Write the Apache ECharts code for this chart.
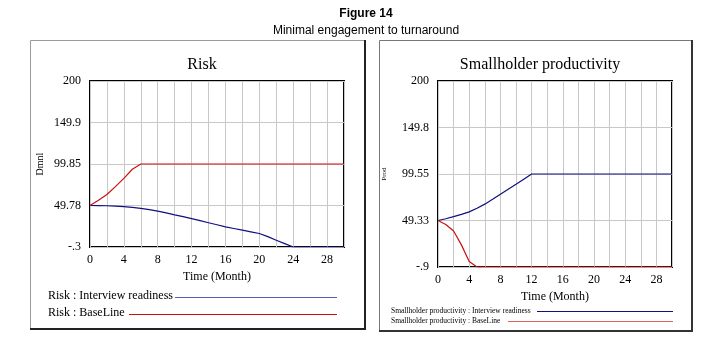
<!DOCTYPE html>
<html>
<head>
<meta charset="utf-8">
<script src="https://cdn.jsdelivr.net/npm/echarts@6/dist/echarts.min.js"></script>
<style>
  html, body { margin: 0; padding: 0; background: #fff; }
  #main { width: 704px; height: 343px; }
</style>
</head>
<body>
<div id="main"></div>
<script>
// time axis (months)
const months = [0,1,2,3,4,5,6,7,8,9,10,11,12,13,14,15,16,17,18,19,20,21,22,23,24,25,26,27,28,29,30];

// Risk (Dmnl)
const riskInterview = [49.78,49.7,49.5,49.1,48.4,47.4,46.2,44.8,43,40.8,38.5,36.3,34,31.5,29,26.5,24,22,20,18,16,12.2,7.8,3.8,-0.3,-0.3,-0.3,-0.3,-0.3,-0.3,-0.3];
const riskBaseline = [49.78,56,63,72.5,82.5,93.5,99.85,99.85,99.85,99.85,99.85,99.85,99.85,99.85,99.85,99.85,99.85,99.85,99.85,99.85,99.85,99.85,99.85,99.85,99.85,99.85,99.85,99.85,99.85,99.85,99.85];

// Smallholder productivity (Prod)
const prodInterview = [49.33,51.2,53.5,56,58.6,62.5,67,72.2,77.8,83.2,88.5,94,99.55,99.55,99.55,99.55,99.55,99.55,99.55,99.55,99.55,99.55,99.55,99.55,99.55,99.55,99.55,99.55,99.55,99.55,99.55];
const prodBaseline = [49.33,45,38,23,5,-0.9,-0.9,-0.9,-0.9,-0.9,-0.9,-0.9,-0.9,-0.9,-0.9,-0.9,-0.9,-0.9,-0.9,-0.9,-0.9,-0.9,-0.9,-0.9,-0.9,-0.9,-0.9,-0.9,-0.9,-0.9,-0.9];

// y ticks and their printed labels
const riskTicks = [-0.3, 49.775, 99.85, 149.925, 200];
const riskTickLabels = ['-.3', '49.78', '99.85', '149.9', '200'];
const prodTicks = [-0.9, 49.325, 99.55, 149.775, 200];
const prodTickLabels = ['-.9', '49.33', '99.55', '149.8', '200'];

const legendLabels = [
  'Risk : Interview readiness',
  'Risk : BaseLine',
  'Smallholder productivity : Interview readiness',
  'Smallholder productivity : BaseLine'
];

const BLUE = '#10107f';
const RED = '#cc1010';
const SERIF = 'Liberation Serif';

const chart = echarts.init(document.getElementById('main'));

function pairs(vals) {
  return months.map((m, i) => [m, vals[i]]);
}

function tickLabel(ticks, labels) {
  return v => {
    let best = 0;
    ticks.forEach((t, i) => { if (Math.abs(t - v) < Math.abs(ticks[best] - v)) best = i; });
    return labels[best];
  };
}

function xAxis(gridIndex, gap) {
  return {
    type: 'value', gridIndex: gridIndex, min: 0, max: 30, interval: 2,
    name: 'Time (Month)', nameLocation: 'middle', nameGap: gap,
    nameTextStyle: { fontFamily: SERIF, fontSize: 12, color: '#000' },
    axisLine: { show: false }, axisTick: { show: false },
    axisLabel: {
      margin: 7, fontFamily: SERIF, fontSize: 12, color: '#000',
      formatter: v => (v % 4 === 0 && v < 30 ? String(v) : '')
    },
    splitLine: { show: true, lineStyle: { color: '#c8c8c8', width: 1 } }
  };
}

function yAxis(gridIndex, ticks, labels, name, nameSize, gap) {
  return {
    type: 'value', gridIndex: gridIndex, min: ticks[0], max: ticks[4],
    interval: ticks[1] - ticks[0],
    name: name, nameLocation: 'middle', nameRotate: 90, nameGap: gap,
    nameTextStyle: { fontFamily: SERIF, fontSize: nameSize, color: '#000' },
    axisLine: { show: false },
    axisTick: { show: false, customValues: ticks },
    axisLabel: {
      margin: 9, fontFamily: SERIF, fontSize: 12, color: '#000',
      customValues: ticks, formatter: tickLabel(ticks, labels)
    },
    splitLine: { show: true, lineStyle: { color: '#c8c8c8', width: 1 } }
  };
}

function line(name, vals, color, xi) {
  return {
    name: name, type: 'line', xAxisIndex: xi, yAxisIndex: xi,
    data: pairs(vals), showSymbol: false, symbol: 'none',
    lineStyle: { color: color, width: 1.2 }, itemStyle: { color: color },
    animation: false, z: 3
  };
}

const option = {
  backgroundColor: '#fff',
  animation: false,
  title: [
    { text: 'Figure 14', left: 361, top: 3, textAlign: 'center',
      textStyle: { fontFamily: 'Liberation Sans', fontSize: 12, fontWeight: 'bold', color: '#000' } },
    { text: 'Minimal engagement to turnaround', left: 361, top: 20, textAlign: 'center',
      textStyle: { fontFamily: 'Liberation Sans', fontSize: 12, fontWeight: 'normal', color: '#000' } },
    { text: 'Risk', left: 197, top: 52, textAlign: 'center',
      textStyle: { fontFamily: SERIF, fontSize: 16, fontWeight: 'normal', color: '#000' } },
    { text: 'Smallholder productivity', left: 535, top: 52, textAlign: 'center',
      textStyle: { fontFamily: SERIF, fontSize: 16, fontWeight: 'normal', color: '#000' } }
  ],
  grid: [
    { left: 90, top: 81, width: 254, height: 166, show: true,
      borderColor: '#000', borderWidth: 2, backgroundColor: 'transparent' },
    { left: 438, top: 81, width: 234, height: 186, show: true,
      borderColor: '#000', borderWidth: 2, backgroundColor: 'transparent' }
  ],
  xAxis: [xAxis(0, 24), xAxis(1, 22)],
  yAxis: [
    yAxis(0, riskTicks, riskTickLabels, 'Dmnl', 10, 45),
    yAxis(1, prodTicks, prodTickLabels, 'Prod', 7, 50)
  ],
  series: [
    line(legendLabels[0], riskInterview, BLUE, 0),
    line(legendLabels[1], riskBaseline, RED, 0),
    line(legendLabels[2], prodInterview, BLUE, 1),
    line(legendLabels[3], prodBaseline, RED, 1)
  ],
  graphic: [
    // panel frames
    { type: 'rect', shape: { x: 30.5, y: 40.5, width: 334, height: 288 },
      style: { fill: 'none', stroke: '#9a9a9a', lineWidth: 1 }, z: -1 },
    { type: 'polyline', shape: { points: [[365, 40], [365, 329], [30, 329]] },
      style: { fill: 'none', stroke: '#222', lineWidth: 2 }, z: -1 },
    { type: 'rect', shape: { x: 379.5, y: 40.5, width: 312, height: 290 },
      style: { fill: 'none', stroke: '#777', lineWidth: 1 }, z: -1 },
    { type: 'polyline', shape: { points: [[692, 40], [692, 331], [379, 331]] },
      style: { fill: 'none', stroke: '#333', lineWidth: 2 }, z: -1 },
    // legends
    { type: 'text', left: 48, top: 290,
      style: { text: legendLabels[0], font: '12px "Liberation Serif"', fill: '#000' } },
    { type: 'line', shape: { x1: 175, y1: 297.5, x2: 337, y2: 297.5 },
      style: { stroke: '#5a5ab8', lineWidth: 1 } },
    { type: 'text', left: 48, top: 307,
      style: { text: legendLabels[1], font: '12px "Liberation Serif"', fill: '#000' } },
    { type: 'line', shape: { x1: 129, y1: 314.5, x2: 337, y2: 314.5 },
      style: { stroke: RED, lineWidth: 1 } },
    { type: 'text', left: 391, top: 307,
      style: { text: legendLabels[2], font: '7.5px "Liberation Serif"', fill: '#000' } },
    { type: 'line', shape: { x1: 537, y1: 311.5, x2: 673, y2: 311.5 },
      style: { stroke: BLUE, lineWidth: 1 } },
    { type: 'text', left: 391, top: 317,
      style: { text: legendLabels[3], font: '7.5px "Liberation Serif"', fill: '#000' } },
    { type: 'line', shape: { x1: 508, y1: 321.5, x2: 673, y2: 321.5 },
      style: { stroke: '#e06060', lineWidth: 1 } }
  ]
};

chart.setOption(option);
</script>
</body>
</html>
